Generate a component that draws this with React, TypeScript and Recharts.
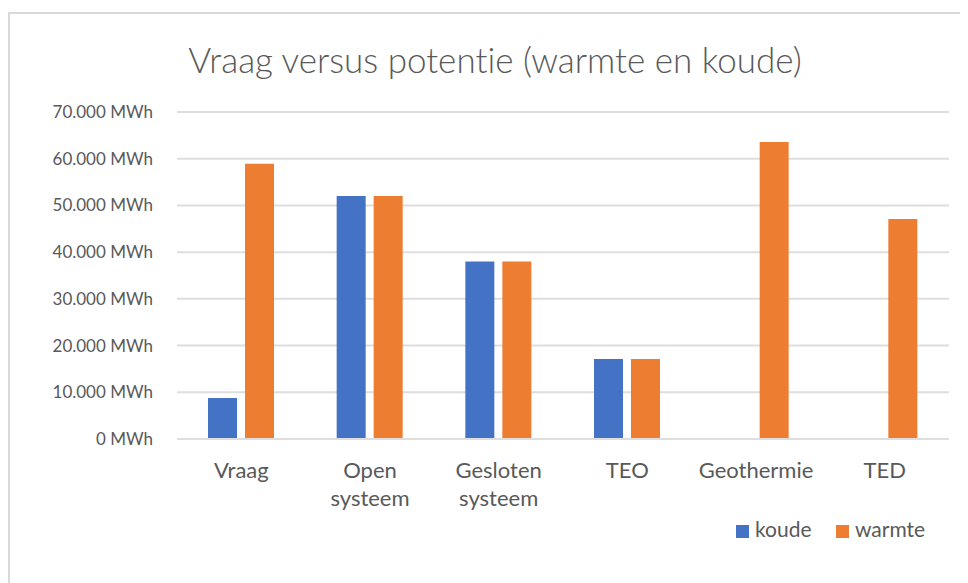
import React from 'react';
import { BarChart, Bar, XAxis, YAxis, CartesianGrid, Legend } from 'recharts';

const categories = ['Vraag', 'Open systeem', 'Gesloten systeem', 'TEO', 'Geothermie', 'TED'];
const koude = [8800, 52000, 38000, 17100, 0, 0];
const warmte = [58900, 52000, 38000, 17100, 63600, 47100];
const yTicks = [0, 10000, 20000, 30000, 40000, 50000, 60000, 70000];
const seriesNames = ['koude', 'warmte'];
const colors = ['#4472C4', '#ED7D31'];

const data = categories.map((c, i) => ({ name: c, koude: koude[i], warmte: warmte[i] }));

const FONT = 'Lato, "Open Sans", sans-serif';
const TEXT = '#595959';
const NOLIG = { fontVariantLigatures: 'none' as const, fontFeatureSettings: '"liga" 0, "clig" 0' };

const fmt = (v: number) => String(v).replace(/\B(?=(\d{3})+(?!\d))/g, '.') + ' MWh';

const CatTick = (props: any) => {
  const { x, y, payload } = props;
  const lines = String(payload.value).split(' ');
  return (
    <text x={x} y={y} textAnchor="middle" fill={TEXT} fontFamily={FONT} fontSize={22} style={NOLIG}>
      {lines.map((l, i) => (
        <tspan key={i} x={x} dy={i === 0 ? 31 : 28}>{l}</tspan>
      ))}
    </text>
  );
};

const LegendContent = () => (
  <svg width={220} height={30}>
    {seriesNames.map((n, i) => {
      const ox = i === 0 ? 0 : 100;
      return (
        <g key={n}>
          <rect x={ox} y={10} width={13} height={13} fill={colors[i]} />
          <text x={ox + 19} y={22} fill={TEXT} fontFamily={FONT} fontSize={21} style={NOLIG}>{n}</text>
        </g>
      );
    })}
  </svg>
);

export default function App() {
  return (
    <div style={{ position: 'relative', width: 960, height: 575 }}>
      <div
        style={{
          position: 'absolute', left: 0, top: 4, width: 960, height: 571,
          borderTop: '2px solid #d9d9d9', borderLeft: '2px solid #d9d9d9', boxSizing: 'border-box',
        }}
      />
      <div style={{ position: 'absolute', left: -8, top: -8 }}>
        <BarChart
          width={968}
          height={583}
          data={data}
          margin={{ top: 112, right: 19, bottom: 14, left: 57 }}
          barSize={29}
          barGap={8}
        >
          <CartesianGrid vertical={false} stroke="#dedede" strokeWidth={2} />
          <XAxis
            dataKey="name"
            height={100}
            axisLine={{ stroke: '#dedede', strokeWidth: 2 }}
            tickLine={false}
            tick={<CatTick />}
            interval={0}
          />
          <YAxis
            width={120}
            domain={[0, 70000]}
            ticks={yTicks}
            tickFormatter={fmt}
            axisLine={false}
            tickLine={false}
            tickMargin={18}
            tick={{ fill: TEXT, fontFamily: FONT, fontSize: 17 }}
            interval={0}
          />
          <Legend
            content={<LegendContent />}
            wrapperStyle={{ position: 'absolute', left: 736, top: 515, width: 220, height: 30 }}
          />
          <Bar dataKey="koude" name="koude" fill={colors[0]} isAnimationActive={false} />
          <Bar dataKey="warmte" name="warmte" fill={colors[1]} isAnimationActive={false} />
        </BarChart>
      </div>
      <svg style={{ position: 'absolute', left: -8, top: -8 }} width={968} height={100}>
        <text x={495} y={73} textAnchor="middle" fill={TEXT} fontFamily={FONT} fontSize={35} fontWeight={300} style={NOLIG}>
          Vraag versus potentie (warmte en koude)
        </text>
      </svg>
    </div>
  );
}
